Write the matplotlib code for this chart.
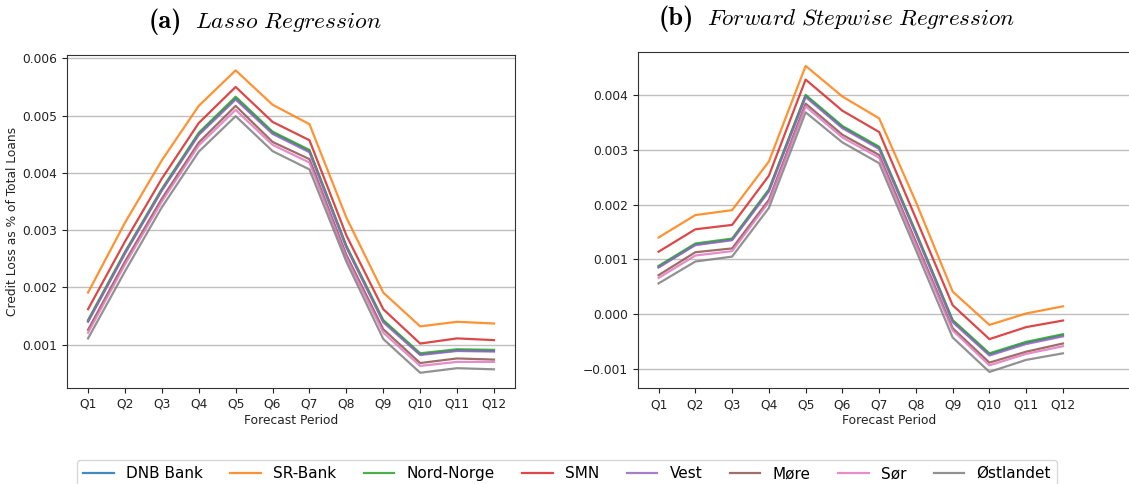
import matplotlib
matplotlib.use("Agg")
import matplotlib.pyplot as plt

plt.rcParams['mathtext.fontset'] = 'cm'

quarters = [f"Q{i}" for i in range(1, 13)]
banks = ["DNB Bank", "SR-Bank", "Nord-Norge", "SMN", "Vest", "Møre", "Sør", "Østlandet"]

# (a) Lasso regression, one list per bank (same order as banks)
lasso = [
    [0.00141, 0.00260, 0.00370, 0.00468, 0.00530, 0.00470, 0.00438, 0.00271, 0.00141, 0.00083, 0.00090, 0.00089],
    [0.00191, 0.00313, 0.00422, 0.00517, 0.00579, 0.00519, 0.00485, 0.00322, 0.00191, 0.00132, 0.00140, 0.00137],
    [0.00143, 0.00262, 0.00372, 0.00470, 0.00533, 0.00472, 0.00440, 0.00273, 0.00143, 0.00085, 0.00092, 0.00091],
    [0.00162, 0.00280, 0.00390, 0.00487, 0.00550, 0.00489, 0.00457, 0.00291, 0.00162, 0.00102, 0.00111, 0.00108],
    [0.00140, 0.00259, 0.00369, 0.00466, 0.00528, 0.00468, 0.00436, 0.00270, 0.00139, 0.00082, 0.00089, 0.00088],
    [0.00126, 0.00245, 0.00355, 0.00453, 0.00517, 0.00454, 0.00424, 0.00257, 0.00127, 0.00068, 0.00076, 0.00074],
    [0.00121, 0.00240, 0.00350, 0.00448, 0.00510, 0.00449, 0.00418, 0.00252, 0.00121, 0.00063, 0.00070, 0.00070],
    [0.00111, 0.00228, 0.00340, 0.00437, 0.00499, 0.00438, 0.00406, 0.00245, 0.00110, 0.00051, 0.00059, 0.00057],
]

# (b) Forward stepwise regression
stepwise = [
    [0.00086, 0.00127, 0.00136, 0.00226, 0.00399, 0.00342, 0.00304, 0.00148, -0.00013, -0.00074, -0.00053, -0.00039],
    [0.00140, 0.00181, 0.00190, 0.00279, 0.00454, 0.00398, 0.00358, 0.00205, 0.00041, -0.00020, 0.00001, 0.00014],
    [0.00088, 0.00129, 0.00138, 0.00228, 0.00401, 0.00344, 0.00306, 0.00150, -0.00011, -0.00072, -0.00051, -0.00037],
    [0.00114, 0.00155, 0.00163, 0.00253, 0.00429, 0.00372, 0.00333, 0.00175, 0.00016, -0.00046, -0.00024, -0.00012],
    [0.00085, 0.00126, 0.00135, 0.00224, 0.00397, 0.00340, 0.00302, 0.00146, -0.00015, -0.00076, -0.00055, -0.00041],
    [0.00071, 0.00113, 0.00120, 0.00209, 0.00385, 0.00328, 0.00291, 0.00132, -0.00026, -0.00089, -0.00069, -0.00054],
    [0.00066, 0.00107, 0.00115, 0.00205, 0.00380, 0.00323, 0.00286, 0.00127, -0.00030, -0.00094, -0.00073, -0.00059],
    [0.00056, 0.00096, 0.00105, 0.00194, 0.00369, 0.00314, 0.00276, 0.00117, -0.00043, -0.00106, -0.00084, -0.00072],
]

W, H = 1129, 484
fig = plt.figure(figsize=(W / 100, H / 100), dpi=100)

ax1 = fig.add_axes([67 / W, 1 - 388 / H, 448 / W, 333 / H])
ax2 = fig.add_axes([638 / W, 1 - 388.3 / H, (1140 - 638) / W, 336.6 / H])

colors = plt.rcParams['axes.prop_cycle'].by_key()['color']
x = list(range(len(quarters)))

lines = []
for ax, data in [(ax1, lasso), (ax2, stepwise)]:
    for i, (bank, vals) in enumerate(zip(banks, data)):
        ln, = ax.plot(x, vals, color=colors[i], lw=1.6, alpha=0.85, label=bank)
        if ax is ax1:
            lines.append(ln)
    ax.set_xticks(x)
    ax.set_xticklabels(quarters)
    ax.grid(axis='y', color='#b0b0b0', lw=1.0, alpha=0.8)
    ax.tick_params(labelsize=8.8, colors='#222222', length=3.5)
    ax.set_xlabel("Forecast Period", fontsize=8.8, color='#222222', labelpad=2)
    for sp in ax.spines.values():
        sp.set_color('#333333')

ax1.set_xlim(-0.57, 11.57)
ax1.set_ylim(0.000244, 0.006058)
ax1.set_yticks([0.001, 0.002, 0.003, 0.004, 0.005, 0.006])
ax1.set_ylabel("Credit Loss as % of Total Loans", fontsize=8.8, color='#222222')
ax1.yaxis.set_label_coords(-0.108, 0.5)

ax2.set_xlim(-0.56, -0.56 + (1140 - 638) / 36.76)
ax2.set_ylim(-0.00136, 0.0048)
ax2.set_yticks([-0.001, 0.0, 0.001, 0.002, 0.003, 0.004])
ax2.spines['right'].set_visible(False)

# panel titles: bold label + math-italic name
fig.text(149 / W, 1 - 22 / H, "(a)", family='cmb10', fontsize=19, ha='left', va='center')
fig.text(195 / W, 1 - 22 / H, r"$\mathit{Lasso\ Regression}$", fontsize=16.9, ha='left', va='center')
fig.text(659 / W, 1 - 19 / H, "(b)", family='cmb10', fontsize=19, ha='left', va='center')
fig.text(707 / W, 1 - 19 / H, r"$\mathit{Forward\ Stepwise\ Regression}$", fontsize=16.6,
         ha='left', va='center')

fig.legend(handles=lines, loc='upper left', bbox_to_anchor=(77 / W, 1 - 460 / H),
           ncol=8, fontsize=11, frameon=True, borderaxespad=0,
           columnspacing=1.8, handlelength=2.0, fancybox=True)

fig.savefig("out.png", dpi=100)
